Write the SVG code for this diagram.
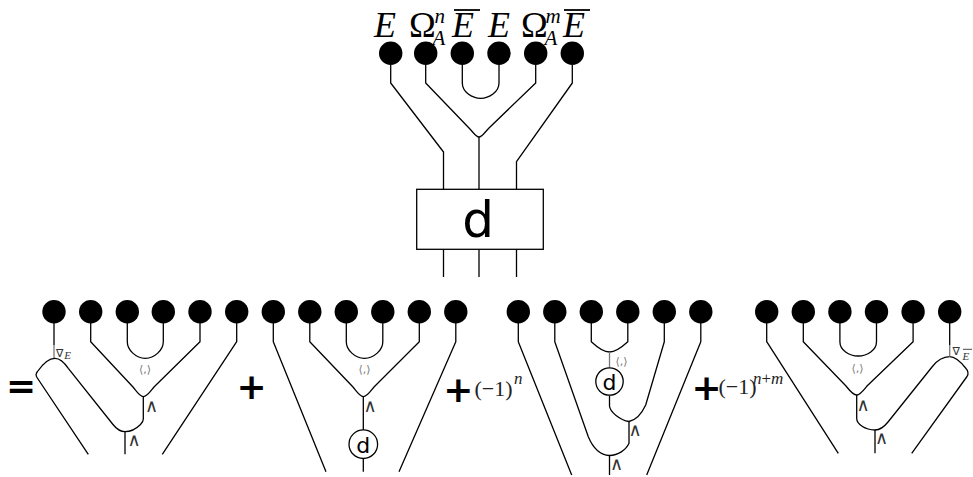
<svg xmlns="http://www.w3.org/2000/svg" width="973" height="477" viewBox="0 0 973 477">
<style>
.w{fill:none;stroke:#000;stroke-width:1.3;stroke-linejoin:round}
.gw{fill:none;stroke:#777;stroke-width:1.3}
.dot{fill:#000}
.dc{fill:#fff;stroke:#000;stroke-width:1.3}
.big{font-family:"Liberation Serif",serif;font-size:36px;fill:#000}
.it{font-style:italic}
.sc{font-family:"Liberation Serif",serif;font-size:21px;font-style:italic;fill:#000}
.pair{font-family:"DejaVu Sans",sans-serif;font-size:11px;fill:#777;text-anchor:middle}
.wedge{font-family:"DejaVu Sans",sans-serif;font-size:18px;fill:#333;text-anchor:middle}
.nab{font-family:"DejaVu Sans",sans-serif;font-size:11px;fill:#333}
.nabE{font-family:"Liberation Serif",serif;font-size:11px;font-style:italic;fill:#333}
.op{font-family:"DejaVu Sans",sans-serif;font-weight:bold;font-size:36px;fill:#000;text-anchor:middle}
.sign{font-family:"Liberation Serif",serif;font-size:22px;fill:#222}
.sup{font-family:"Liberation Serif",serif;font-size:17px;fill:#222}
.dl{font-family:"DejaVu Sans",sans-serif;fill:#000;text-anchor:middle}
.bar{stroke:#000;stroke-width:1.8}
</style>

<g id="top-labels">
<text class="big it" x="374" y="36.5">E</text>
<text class="big" x="409" y="36.5">Ω</text>
<text class="sc" x="434.5" y="22.5">n</text>
<text class="sc" x="432.5" y="45">A</text>
<text class="big it" x="452" y="36.5">E</text>
<line class="bar" x1="454" y1="10" x2="480" y2="10"/>
<text class="big it" x="488" y="36.5">E</text>
<text class="big" x="521" y="36.5">Ω</text>
<text class="sc" x="545.5" y="22.5">m</text>
<text class="sc" x="544.5" y="45">A</text>
<text class="big it" x="563" y="36.5">E</text>
<line class="bar" x1="564" y1="10" x2="590" y2="10"/>
</g>

<g id="top-dots">
<circle class="dot" cx="390.7" cy="53.3" r="11.7"/>
<circle class="dot" cx="425.7" cy="53.3" r="11.7"/>
<circle class="dot" cx="462.3" cy="53.3" r="11.7"/>
<circle class="dot" cx="499" cy="53.3" r="11.7"/>
<circle class="dot" cx="535.7" cy="53.3" r="11.7"/>
<circle class="dot" cx="572.3" cy="53.3" r="11.7"/>
</g>

<g id="connectors">
<!-- top -->
<path class="w" d="M390.7,65 V83 L443.5,152 V189.3"/>
<path class="w" d="M572.3,65 V83 L516.5,161.7 V189.3"/>
<path class="w" d="M425.7,65 V83 L469,128 C474,133 476,137 479,137 C482,137 484,133 489,128 L535.7,83 V65"/>
<path class="w" d="M479,137 V189.3"/>
<path class="w" d="M462.3,65 V83 C462.3,92 472,98.3 480.7,98.3 C489,98.3 499,92 499,83 V65"/>
<path class="w" d="M443.5,249.3 V277 M479,249.3 V277 M516.5,249.3 V277"/>

<!-- D1 -->
<path class="w" d="M54,323 V345"/>
<path class="gw" d="M54,345 V358.3"/>
<path class="w" d="M88.3,454.3 L37,377.5 Q35,374.5 37.5,371.5 C44,362 49,358.3 55,358.3 C60,358.3 64,362 68.3,368.3 L113,424.5 C117,429.5 120.5,431.7 125,431.7 C131,431.7 137,428 140.5,424.5 C142.5,422.5 143.3,421 143.3,419 V397"/>
<path class="w" d="M90.7,323 V341.7 L133,387 C137,392 140,396.7 143.3,396.7 C147,396.7 150,392 154,387 L200,341.7 V323"/>
<path class="w" d="M127.3,323 V341.7 C127.3,350 136,358.3 145.3,358.3 C154.5,358.3 163.3,350 163.3,341.7 V323"/>
<path class="w" d="M236.7,323 V341.7 L162.3,454.3"/>
<path class="w" d="M125,431.7 V454.3"/>

<!-- D2 -->
<path class="w" d="M273.3,323 V341.7 L326,471.7"/>
<path class="w" d="M309.8,323 V341.7 L353,387 C357,392 360,396.7 363.3,396.7 C367,396.7 370,392 374,387 L419.3,341.7 V323"/>
<path class="w" d="M346.3,323 V341.7 C346.3,350 355,358.3 364.5,358.3 C374,358.3 382.8,350 382.8,341.7 V323"/>
<path class="w" d="M363.3,396.7 V430 M363.3,458.5 V471.7"/>
<path class="w" d="M455.8,323 V341.7 L399,471.7"/>

<!-- D3 -->
<path class="w" d="M518.3,323 V341.7 L571.7,475"/>
<path class="w" d="M700.8,323 V341.7 L646.7,475"/>
<path class="w" d="M591.3,323 V341.7 C597,347 603,352 609.5,352 C616,352 622,347 627.8,341.7 V323"/>
<path class="gw" d="M609.5,352 V367.8"/>
<path class="w" d="M609.5,395.2 V406 C610,412 620,420 629,421.5 C636,420 642,413 645.7,405 L664.3,341.7 V323"/>
<path class="w" d="M629,421.5 V443.3 C626,450 618,455.5 609.5,455.5 C600,455 593,448 588.3,436.7 L554.8,341.7 V323"/>
<path class="w" d="M609.5,455.5 V475"/>

<!-- D4 -->
<path class="w" d="M766.7,323 V341.7 L838.3,453.3"/>
<path class="w" d="M803.3,323 V341.7 L846,386 C850,391 853,395 856.7,395 C860,395 863,391 867,386 L913.1,341.7 V323"/>
<path class="w" d="M839.9,323 V341.7 C839.9,350 849,356 858.2,356 C867.4,356 876.5,350 876.5,341.7 V323"/>
<path class="w" d="M856.7,395 V418.3 C856.7,424 865,430 875,430 C880,430 884,427 888,422 L932,367 C937,360.5 942,356.7 949.7,356.7 C955,356.7 960,361 966,368.5 Q969.5,372.5 967,376.5 L911.7,453.3"/>
<path class="w" d="M949.7,323 V345"/>
<path class="gw" d="M949.7,345 V356.7"/>
<path class="w" d="M875,430 V453.3"/>
</g>

<g id="box-d">
<rect x="416.7" y="189.3" width="126.6" height="60" fill="#fff" stroke="#000" stroke-width="1.3"/>
<text class="dl" x="478" y="237" font-size="50">d</text>
</g>

<g id="term1">
<text class="op" x="21" y="397.5">=</text>
<circle class="dot" cx="54" cy="311.7" r="11.7"/>
<circle class="dot" cx="90.7" cy="311.7" r="11.7"/>
<circle class="dot" cx="127.3" cy="311.7" r="11.7"/>
<circle class="dot" cx="163.3" cy="311.7" r="11.7"/>
<circle class="dot" cx="200" cy="311.7" r="11.7"/>
<circle class="dot" cx="236.7" cy="311.7" r="11.7"/>
<text class="nab" x="56" y="357">∇<tspan class="nabE" dx="1" dy="1.5">E</tspan></text>
<text class="pair" x="145" y="372.5">⟨,⟩</text>
<text class="wedge" x="151.7" y="412">∧</text>
<text class="wedge" x="134" y="445.5">∧</text>
</g>

<g id="term2">
<text class="op" x="251.7" y="399">+</text>
<circle class="dot" cx="273.3" cy="311.7" r="11.7"/>
<circle class="dot" cx="309.8" cy="311.7" r="11.7"/>
<circle class="dot" cx="346.3" cy="311.7" r="11.7"/>
<circle class="dot" cx="382.8" cy="311.7" r="11.7"/>
<circle class="dot" cx="419.3" cy="311.7" r="11.7"/>
<circle class="dot" cx="455.8" cy="311.7" r="11.7"/>
<text class="pair" x="364.5" y="372.5">⟨,⟩</text>
<text class="wedge" x="370" y="412">∧</text>
<circle class="dc" cx="363.3" cy="444.2" r="14.3"/>
<text class="dl" x="363.3" y="452.5" font-size="22">d</text>
</g>

<g id="term3">
<text class="op" x="458.3" y="401.5">+</text>
<text class="sign" x="474.5" y="396">(−1)</text>
<text class="sup it" x="514" y="384">n</text>
<circle class="dot" cx="518.3" cy="311.7" r="11.7"/>
<circle class="dot" cx="554.8" cy="311.7" r="11.7"/>
<circle class="dot" cx="591.3" cy="311.7" r="11.7"/>
<circle class="dot" cx="627.8" cy="311.7" r="11.7"/>
<circle class="dot" cx="664.3" cy="311.7" r="11.7"/>
<circle class="dot" cx="700.8" cy="311.7" r="11.7"/>
<text class="pair" x="621.5" y="364.5">⟨,⟩</text>
<circle class="dc" cx="609.5" cy="381.5" r="13.7"/>
<text class="dl" x="609.5" y="389.5" font-size="22">d</text>
<text class="wedge" x="635" y="435.5">∧</text>
<text class="wedge" x="616.7" y="470">∧</text>
</g>

<g id="term4">
<text class="op" x="706.7" y="399.5">+</text>
<text class="sign" x="718.5" y="394" font-size="19">(−1)</text>
<text class="sup" x="753" y="384"><tspan class="it">n</tspan>+<tspan class="it">m</tspan></text>
<circle class="dot" cx="766.7" cy="311.7" r="11.7"/>
<circle class="dot" cx="803.3" cy="311.7" r="11.7"/>
<circle class="dot" cx="839.9" cy="311.7" r="11.7"/>
<circle class="dot" cx="876.5" cy="311.7" r="11.7"/>
<circle class="dot" cx="913.1" cy="311.7" r="11.7"/>
<circle class="dot" cx="949.7" cy="311.7" r="11.7"/>
<text class="nab" x="952.5" y="355" font-size="12">∇</text>
<text class="nabE" x="962.5" y="359.5" font-size="12">E</text>
<line x1="963" y1="349.3" x2="972" y2="349.3" stroke="#333" stroke-width="0.9"/>
<text class="pair" x="857.5" y="371.5">⟨,⟩</text>
<text class="wedge" x="863" y="410.5">∧</text>
<text class="wedge" x="881.7" y="443.5">∧</text>
</g>
</svg>
